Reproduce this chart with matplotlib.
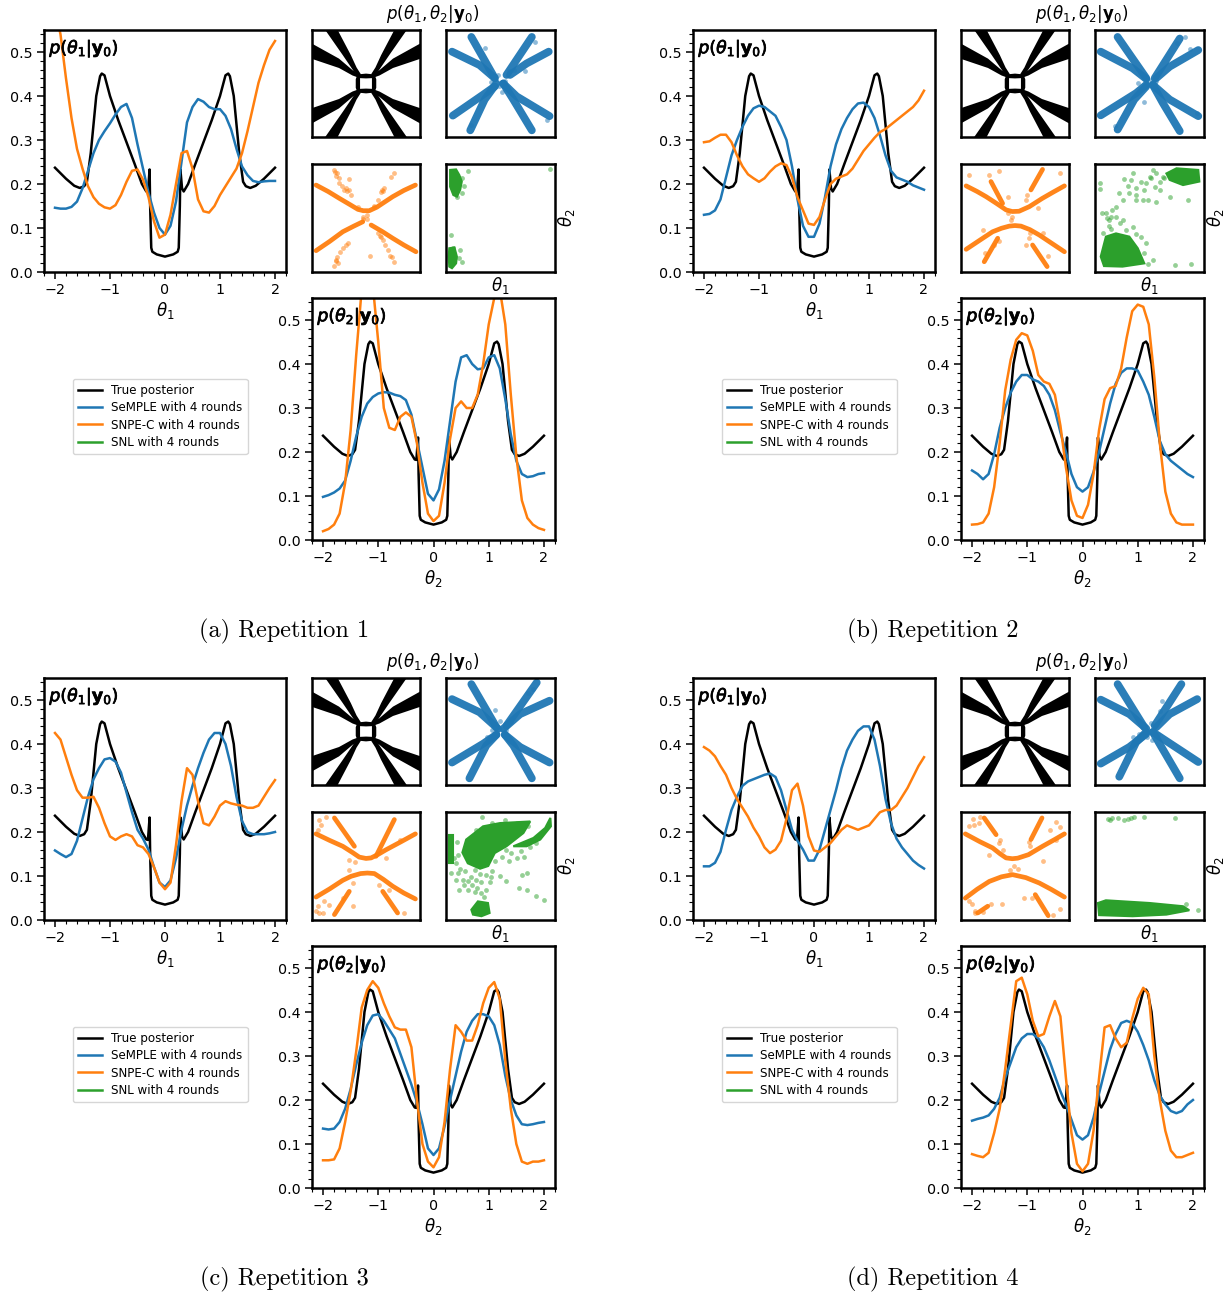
import numpy as np
import matplotlib
matplotlib.use("Agg")
from matplotlib import pyplot as plt
from matplotlib import patheffects
from matplotlib.lines import Line2D
from matplotlib.ticker import MultipleLocator

W, H = 1229, 1293
BLUE, ORANGE, GREEN = "#1f77b4", "#ff7f0e", "#2ca02c"

theta_grid = [-2.0, -1.9, -1.8, -1.7, -1.6, -1.5, -1.4, -1.3, -1.2, -1.1, -1.0, -0.9, -0.8, -0.7,
              -0.6, -0.5, -0.4, -0.3, -0.2, -0.1, 0.0, 0.1, 0.2, 0.3, 0.4, 0.5, 0.6, 0.7,
              0.8, 0.9, 1.0, 1.1, 1.2, 1.3, 1.4, 1.5, 1.6, 1.7, 1.8, 1.9, 2.0]

# true posterior marginal, same in every panel
true_x = [-2.0, -1.8, -1.65, -1.55, -1.47, -1.42, -1.35, -1.25, -1.18, -1.15, -1.1, -1.0, -0.85, -0.7,
          -0.55, -0.42, -0.34, -0.31, -0.28, -0.27, -0.25, -0.23, -0.15, 0.0, 0.15, 0.23, 0.25, 0.27,
          0.28, 0.31, 0.34, 0.42, 0.55, 0.7, 0.85, 1.0, 1.1, 1.15, 1.18, 1.25, 1.35, 1.42, 1.47, 1.55,
          1.65, 1.8, 2.0]
true_y = [0.237, 0.212, 0.196, 0.191, 0.195, 0.205, 0.27, 0.40, 0.445, 0.451, 0.447, 0.40, 0.345, 0.295,
          0.245, 0.20, 0.183, 0.182, 0.233, 0.15, 0.055, 0.046, 0.04, 0.035, 0.04, 0.046, 0.055, 0.15,
          0.233, 0.19, 0.183, 0.20, 0.245, 0.295, 0.345, 0.40, 0.447, 0.451, 0.445, 0.40, 0.27, 0.205,
          0.195, 0.191, 0.196, 0.212, 0.237]

a_t1_blue = [.146, .144, .144, .148, .16, .19, .23, .27, .30, .32, .338, .358, .375, .382, .35, .29, .235, .18, .135, .10, .085,
             .105, .16, .25, .34, .375, .393, .387, .375, .37, .37, .355, .325, .28, .24, .22, .207, .204, .206, .207, .207]
a_t1_orange = [.60, .54, .44, .35, .28, .235, .195, .17, .155, .147, .144, .152, .175, .205, .23, .233, .21, .17, .115, .078, .085,
               .13, .20, .27, .275, .235, .165, .138, .135, .15, .175, .195, .215, .235, .27, .32, .375, .43, .47, .505, .525]
a_t2_blue = [.098, .102, .108, .117, .135, .18, .235, .28, .31, .325, .333, .336, .335, .33, .327, .318, .285, .225, .165, .105, .09,
             .115, .18, .27, .36, .415, .42, .40, .388, .39, .415, .42, .39, .32, .24, .18, .15, .143, .145, .15, .152]
a_t2_orange = [.02, .025, .035, .06, .13, .25, .42, .57, .62, .58, .45, .30, .255, .25, .28, .29, .28, .22, .13, .06, .043,
               .055, .13, .23, .30, .315, .30, .30, .33, .40, .49, .55, .57, .49, .33, .19, .09, .05, .035, .027, .023]

b_t1_blue = [.13, .132, .14, .165, .215, .265, .30, .33, .355, .372, .378, .375, .365, .355, .33, .30, .24, .165, .105, .08, .08,
             .11, .17, .24, .29, .325, .35, .37, .383, .385, .375, .35, .31, .265, .23, .215, .21, .205, .197, .192, .187]
b_t1_orange = [.295, .297, .305, .312, .312, .295, .265, .24, .222, .213, .205, .213, .228, .24, .247, .243, .215, .17, .14, .11, .107,
               .125, .165, .20, .212, .217, .222, .235, .255, .275, .29, .305, .318, .325, .335, .345, .355, .365, .375, .39, .412]
b_t2_blue = [.158, .15, .138, .15, .195, .255, .30, .335, .36, .375, .375, .365, .36, .35, .33, .295, .245, .20, .15, .12, .11,
             .12, .155, .20, .255, .31, .355, .38, .39, .39, .385, .36, .33, .28, .225, .195, .18, .17, .16, .15, .143]
b_t2_orange = [.035, .036, .04, .06, .12, .22, .34, .41, .455, .47, .465, .43, .375, .36, .355, .33, .26, .165, .09, .055, .05,
               .08, .15, .25, .32, .345, .35, .39, .46, .52, .535, .53, .49, .37, .22, .11, .06, .04, .035, .035, .035]

c_t1_blue = [.158, .15, .143, .15, .18, .23, .28, .32, .345, .365, .368, .36, .335, .29, .245, .205, .185, .16, .12, .085, .075,
             .09, .14, .205, .26, .305, .345, .38, .41, .425, .425, .40, .35, .28, .225, .20, .195, .195, .195, .197, .20]
c_t1_orange = [.425, .41, .37, .33, .295, .278, .278, .28, .255, .22, .19, .182, .19, .195, .19, .17, .165, .15, .12, .085, .07,
               .085, .17, .27, .345, .33, .27, .22, .215, .235, .26, .27, .265, .262, .26, .255, .255, .26, .28, .30, .318]
c_t2_blue = [.135, .133, .135, .15, .18, .225, .28, .33, .37, .392, .395, .38, .36, .34, .305, .27, .235, .195, .145, .09, .075,
             .09, .14, .20, .255, .31, .355, .38, .395, .395, .39, .37, .325, .255, .20, .165, .145, .143, .145, .148, .15]
c_t2_orange = [.063, .063, .065, .09, .15, .22, .31, .41, .45, .47, .455, .42, .39, .365, .36, .36, .32, .20, .10, .06, .047,
               .07, .15, .27, .37, .355, .335, .335, .37, .42, .455, .468, .43, .29, .18, .10, .06, .055, .06, .06, .063]

d_t1_blue = [.122, .122, .13, .155, .205, .25, .28, .305, .315, .32, .325, .33, .333, .325, .295, .25, .205, .18, .16, .135, .135,
             .16, .205, .25, .295, .345, .385, .41, .43, .44, .44, .41, .35, .275, .22, .185, .165, .15, .135, .125, .117]
d_t1_orange = [.393, .385, .372, .35, .33, .30, .275, .255, .235, .21, .19, .165, .152, .16, .18, .23, .295, .31, .26, .19, .158,
               .155, .165, .175, .19, .205, .215, .21, .205, .21, .215, .23, .245, .25, .25, .26, .28, .30, .325, .35, .37]
d_t2_blue = [.153, .157, .16, .165, .18, .205, .25, .285, .32, .34, .35, .35, .34, .32, .29, .255, .22, .19, .155, .12, .11,
             .12, .16, .215, .265, .315, .35, .375, .38, .375, .355, .325, .29, .245, .21, .19, .175, .17, .175, .19, .20]
d_t2_orange = [.077, .073, .07, .08, .125, .18, .27, .37, .47, .478, .44, .38, .345, .35, .39, .425, .39, .25, .125, .055, .038,
               .055, .13, .25, .365, .37, .34, .32, .33, .385, .43, .455, .44, .30, .20, .13, .085, .07, .07, .075, .08]

# true joint posterior, upper right quadrant, mirrored when drawn
arm_steep = [(1.05, 2.0), (1.51, 2.0), (.86, 1.06), (.45, .45), (.3, .3), (.18, .33), (.35, .6), (.56, 1.06)]
arm_shallow = [(2.0, 1.49), (2.0, .92), (1.0, .58), (.5, .3), (.28, .22), (.28, .36), (.5, .5), (1.0, .93)]
ring_outer = [(0, .37), (.2, .35), (.33, .3), (.38, .16), (.38, 0), (.38, -.16), (.33, -.3), (.2, -.35), (0, -.37),
              (-.2, -.35), (-.33, -.3), (-.38, -.16), (-.38, 0), (-.38, .16), (-.33, .3), (-.2, .35)]
ring_inner = [(0, .19), (.22, .2), (.22, -.2), (0, -.19), (-.22, -.2), (-.22, .2)]

# dense parts of the sample clouds, read as ridge lines
a_blue_ridges = [[(-1.07, 1.74), (-.21, .2)], [(-1.78, 1.19), (-.77, .69), (-.21, .2)],
                 [(1.15, 1.74), (.22, .32)], [(1.77, 1.19), (.96, .75), (.35, .32)],
                 [(-1.75, -1.2), (-.64, -.42), (-.21, -.11)], [(-1.11, -1.75), (-.58, -.6), (-.15, 0)],
                 [(1.15, -1.75), (.47, -.6), (.1, 0)], [(1.8, -1.22), (.59, -.48), (.1, 0)]]
b_blue_ridges = [[(-1.17, 1.74), (-.12, .2)], [(-1.79, 1.19), (-.62, .57), (-.12, .17)],
                 [(1.11, 1.68), (.19, .2)], [(1.79, 1.25), (.74, .63), (.25, .2)],
                 [(-1.79, -1.19), (-.49, -.36), (-.12, -.05)], [(-1.17, -1.72), (-.56, -.6), (-.12, -.11)],
                 [(1.11, -1.78), (.49, -.73), (.12, -.05)], [(1.79, -1.22), (.74, -.6), (.12, -.05)]]
c_blue_ridges = [[(-1.07, 1.77), (-.15, .16)], [(-1.78, 1.21), (-.77, .72), (-.09, .1)],
                 [(1.33, 1.83), (.22, .22)], [(1.8, 1.15), (.72, .65), (.1, .1)],
                 [(-1.78, -1.16), (-.64, -.46), (-.15, -.12)], [(-1.14, -1.75), (-.52, -.52), (-.15, -.12)],
                 [(1.15, -1.75), (.47, -.52), (.16, -.12)], [(1.8, -1.16), (.72, -.58), (.16, -.12)]]
d_blue_ridges = [[(-1.17, 1.77), (-.19, .16)], [(-1.79, 1.19), (-.74, .65), (-.12, .11)],
                 [(1.17, 1.77), (.19, .22)], [(1.75, 1.21), (.74, .65), (.25, .16)],
                 [(-1.79, -1.2), (-.74, -.58), (-.12, -.09)], [(-1.11, -1.69), (-.49, -.4), (-.12, -.02)],
                 [(1.11, -1.75), (.37, -.46), (.12, -.02)], [(1.79, -1.14), (.49, -.27), (.12, -.02)]]

a_blue_stray = [(-.58, 1.33), (.05, -.33), (.5, .5), (.9, .45), (-.1, .3), (.3, .45), (-.05, -.1), (1.7, -1.35), (-1.1, -1.55),
                (1.25, 1.55), (-.35, .05), (.15, .1)]
b_blue_stray = [(-.43, .02), (.05, .12), (.1, -.1), (-.1, .02), (.25, .1), (1.5, 1.3), (1.75, -1.1), (-1.25, -1.6),
                (1.3, 1.75), (1.0, 1.5), (-.2, -.7), (.2, .03)]
c_blue_stray = [(-.22, .8), (-.03, .4), (-.3, .05), (.2, .05), (-.5, -.2), (.1, .1), (1.2, 1.6), (1.0, 1.45), (-.4, -.2), (.4, .35)]
d_blue_stray = [(.45, 1.15), (-.1, -.2), (.1, -.3), (.05, .3), (-.6, -.2), (-.4, -.1), (.3, -.1), (.25, -.2), (-.15, .1), (.4, .75)]

a_orange_ridges = [[(-1.85, 1.22), (-1.4, .98), (-.99, .73), (-.6, .5), (-.3, .32), (-.1, .27), (.12, .27), (.4, .4), (.99, .79), (1.4, 1.02), (1.83, 1.22)],
                   [(-1.85, -1.21), (-1.35, -.87), (-.86, -.51), (-.45, -.3), (-.12, -.14)],
                   [(.19, -.26), (.6, -.5), (.99, -.75), (1.4, -1.0), (1.85, -1.25)]]
a_orange_stray = [(-1.17, 1.78), (-1.09, 1.65), (-.99, 1.47), (-.99, 1.28), (-.8, 1.04), (-.62, 1.04), (-.56, .85), (-.64, 1.43),
                  (-1.1, 1.55), (-.75, 1.1), (1.05, 1.65), (.93, 1.53), (.68, 1.1), (.56, .98), (.43, .67), (.31, .42), (.6, 1.05),
                  (-1.17, -1.77), (-1.09, -1.43), (-.86, -1.12), (-.68, -.94), (-1.05, -1.68), (-1.12, -1.55), (-.75, -1.0),
                  (1.05, -1.62), (.8, -1.19), (.62, -.81), (.43, -.57), (.15, -1.4), (.9, -1.4), (.7, -1.0), (.55, -.7),
                  (-.1, .05), (-.1, -.05), (.03, .12), (.03, -.02), (-.3, .4), (.3, .45), (-.88, 1.2), (-1.15, 1.72), (-.7, 1.0),
                  (.62, 1.0), (-1.12, -1.6), (-.95, -1.25), (.95, -1.45), (.5, -.65)]
b_orange_ridges = [[(-1.81, 1.19), (-1.4, .98), (-1.07, .79), (-.7, .55), (-.33, .3), (-.1, .24), (.15, .25), (.53, .42), (1.0, .72), (1.4, .95), (1.83, 1.19)],
                   [(-1.81, -1.16), (-1.3, -.82), (-.83, -.51), (-.5, -.38), (-.21, -.3), (0, -.28), (.22, -.3), (.55, -.43), (.9, -.63), (1.35, -.93), (1.83, -1.25)],
                   [(1.02, 1.8), (.59, 1.04)], [(-.89, 1.35), (-.46, .54)], [(-1.14, -1.62), (-.64, -.75)], [(1.19, -1.8), (.65, -1.0)]]
b_orange_stray = [(-1.69, 1.59), (-.98, 1.59), (-.6, 1.75), (1.67, 1.65), (-.27, .77), (-1.2, -.44), (.53, -.75), (-.27, .17),
                  (-.15, -.07), (.41, .67), (.84, .36), (1.02, -.57), (-.77, -1.0), (1.21, -1.41), (.41, -1.0), (.45, .85),
                  (-.6, -.85), (-1.1, -1.3), (-.1, .05), (.55, -.55)]
c_orange_ridges = [[(-1.85, 1.19), (-1.35, .95), (-.86, .73), (-.5, .5), (-.25, .33), (0, .28), (.19, .3), (.45, .43), (.74, .6), (1.3, .9), (1.83, 1.19)],
                   [(-1.85, -1.15), (-1.35, -.85), (-.86, -.53), (-.55, -.38), (-.2, -.28), (.05, -.26), (.31, -.28), (.65, -.5), (.99, -.75), (1.4, -1.0), (1.83, -1.22)],
                   [(-1.17, 1.78), (-.43, .73)], [(1.05, 1.72), (.37, .36)], [(-1.17, -1.8), (-.62, -.94)], [(1.17, -1.74), (.62, -.94)]]
c_orange_stray = [(-1.79, 1.35), (-1.67, 1.53), (-1.48, 1.80), (-1.73, 1.72), (-1.73, -1.74), (-1.79, -1.49), (-1.6, -1.74),
                  (-1.36, -1.43), (-.49, -1.49), (1.42, -1.74), (-.62, -.14), (-.62, .23), (.74, .30), (-.49, -.63), (.49, -.69),
                  (.86, -.88), (-.86, -1.19), (-1.85, -1.65), (-1.55, -1.3), (-.4, .15), (1.25, .95)]
d_orange_ridges = [[(-1.84, 1.19), (-1.3, .9), (-.83, .67), (-.55, .45), (-.33, .3), (-.1, .27), (.1, .29), (.5, .42), (1.02, .73), (1.45, .97), (1.83, 1.19)],
                   [(-1.84, -1.19), (-1.4, -.86), (-.95, -.57), (-.5, -.4), (-.09, -.32), (.4, -.43), (.9, -.63), (1.35, -.87), (1.83, -1.15)],
                   [(1.0, 1.78), (.59, .98)], [(-1.14, 1.78), (-.7, 1.16)], [(1.23, -1.84), (.75, -1.06)], [(-1.38, -1.74), (-1.01, -1.49)]]
d_orange_stray = [(-1.69, 1.47), (-1.51, 1.53), (-1.56, 1.75), (1.5, 1.64), (1.67, 1.45), (1.53, .95), (.52, .9), (-.6, .86),
                  (-.46, .6), (-.95, .4), (1.02, .17), (-1.6, -1.4), (-1.49, -1.65), (-.9, -1.4), (-.47, -1.4), (.33, -1.2),
                  (.62, -1.2), (1.65, -1.6), (1.4, -1.8), (-.2, -.15), (-1.3, 1.8), (-1.35, 1.6), (-1.72, -1.3), (-1.2, -1.7),
                  (-.55, .95), (.1, -.1), (-.05, .0), (.55, .75), (-1.5, -1.75), (1.3, 1.35)]

# green clouds: outline of the solid part, then the separate samples
a_green_blobs = [[(-1.85, 1.78), (-1.63, 1.80), (-1.51, 1.59), (-1.42, 1.35), (-1.48, 1.04), (-1.60, .79), (-1.73, .85), (-1.85, 1.16)],
                 [(-1.88, -1.12), (-1.69, -1.09), (-1.6, -1.43), (-1.63, -1.68), (-1.78, -1.86), (-1.88, -1.8), (-1.9, -1.43)]]
a_green_stray = [(-1.2, 1.75), (1.8, 1.81), (-1.81, -.64), (-1.41, -1.62), (-1.6, .79), (-1.51, -1.49), (-1.42, .91), (-1.73, -1.12),
                 (-1.4, 1.5), (-1.35, 1.2), (-1.5, -1.2)]
b_green_blobs = [[(-1.79, -1.43), (-1.6, -.69), (-1.23, -.57), (-.74, -.69), (-.43, -1.12), (-.19, -1.68), (-.99, -1.8), (-1.67, -1.78)],
                 [(.62, 1.65), (.99, 1.84), (1.79, 1.78), (1.83, 1.35), (1.23, 1.22), (.74, 1.41)]]
b_green_stray = [(-1.83, 1.28), (-1.83, 1.06), (-.93, 1.44), (-.62, 1.65), (-.68, 1.41), (.12, 1.77), (.25, 1.65), (0, 1.53), (-.31, 1.35),
                 (-.49, 1.10), (-.12, 1.28), (.19, 1.16), (.37, 1.04), (.74, .79), (.25, .60), (-.06, .67), (-.25, .67), (-.74, .91),
                 (-.99, .67), (-1.11, .91), (-1.23, .42), (-1.36, .30), (-1.6, .17), (-1.73, .17), (-1.48, -.07), (-1.23, .05),
                 (-.99, -.07), (-.62, -.32), (-.31, -.69), (-.12, -.94), (.12, -1.56), (.93, -1.74), (1.51, -1.72), (1.42, .67),
                 (.49, 1.53), (.06, 1.48), (-.49, .67), (-.8, 1.2), (-.5, .85), (-.2, 1.05), (-1.4, .05), (-1.1, -.2), (-1.5, -.3),
                 (-1.7, -.55), (-1.4, -.4), (-1.55, .0), (-.85, -.45), (-.5, -.6), (-.2, -1.3), (-.05, -1.7), (.55, 1.5), (.4, 1.35)]
c_green_blobs = [[(-1.26, .98), (-.64, 1.47), (-.02, 1.59), (1.09, 1.65), (.84, 1.22), (.22, .73), (-.21, .48), (-.45, 0), (-.75, -.1),
                  (-1.2, .1), (-1.4, .5)],
                 [(.47, .73), (1.21, 1.04), (1.64, 1.41), (1.83, 1.78), (1.85, 1.47), (1.46, .98), (.96, .73)],
                 [(-1.07, -1.62), (-.83, -1.31), (-.46, -1.37), (-.40, -1.74), (-.70, -1.86), (-1.01, -1.80)],
                 [(-1.88, 1.16), (-1.75, 1.16), (-1.75, .11), (-1.88, .11)]]
c_green_stray = [(-.67, 1.80), (.16, 1.72), (1.58, -1.25), (1.31, -1.12), (.96, -.26), (.78, -.32), (.69, -.81), (.96, -.88), (.22, -.57),
                 (-.02, -.38), (-.70, -1.0), (-1.53, -.88), (-1.38, -.51), (-1.81, -.26), (-1.63, .11), (-1.2, -.9), (-.95, -.95),
                 (-.6, -1.15), (.3, .2), (.6, .3), (.85, .35), (.2, .6), (-1.65, -.5), (-1.55, .4), (-1.6, .9), (-.4, -.6), (-.3, -.2),
                 (-1.3, -.2), (-1.1, -.4), (-.9, -.5), (-.7, -.6), (-1.5, -.1), (-1.35, -.7), (-1.05, -.7), (-.85, -.8), (-.55, -.35),
                 (-.35, -.4), (-.55, -.9), (-1.7, .3), (-1.55, -.25), (-1.2, -.55), (-.95, -.15), (-.75, -.3), (-.2, .2), (.05, .35),
                 (.4, .5), (.75, .55), (1.1, .7), (1.3, .85), (1.0, 1.5), (.6, 1.6), (-.3, 1.6), (-.9, 1.35)]
d_green_blobs = [[(-1.89, -1.37), (-1.60, -1.27), (0, -1.37), (1.23, -1.49), (1.46, -1.64), (.62, -1.80), (-.62, -1.86), (-1.85, -1.82)]]
d_green_stray = [(-1.51, 1.74), (-1.38, 1.78), (-1.17, 1.78), (-.93, 1.72), (-.68, 1.78), (-.56, 1.8), (-.19, 1.8), (.95, 1.78),
                 (1.79, -1.64), (1.33, -1.41), (-1.45, 1.7), (-.8, 1.75)]

labels = ["True posterior", "SeMPLE with 4 rounds", "SNPE-C with 4 rounds", "SNL with 4 rounds"]
captions = ["(a) Repetition 1", "(b) Repetition 2", "(c) Repetition 3", "(d) Repetition 4"]
offsets = [(0, 0), (649, 0), (0, 648), (649, 648)]
marginals = [(a_t1_blue, a_t1_orange, a_t2_blue, a_t2_orange), (b_t1_blue, b_t1_orange, b_t2_blue, b_t2_orange),
             (c_t1_blue, c_t1_orange, c_t2_blue, c_t2_orange), (d_t1_blue, d_t1_orange, d_t2_blue, d_t2_orange)]
blue_clouds = [(a_blue_ridges, a_blue_stray), (b_blue_ridges, b_blue_stray), (c_blue_ridges, c_blue_stray), (d_blue_ridges, d_blue_stray)]
orange_clouds = [(a_orange_ridges, a_orange_stray), (b_orange_ridges, b_orange_stray), (c_orange_ridges, c_orange_stray),
                 (d_orange_ridges, d_orange_stray)]
green_clouds = [(a_green_blobs, a_green_stray), (b_green_blobs, b_green_stray), (c_green_blobs, c_green_stray), (d_green_blobs, d_green_stray)]

plt.rcParams["mathtext.fontset"] = "dejavusans"
fig = plt.figure(figsize=(W / 100, H / 100), dpi=100)


def px_axes(x0, y0, x1, y1):
    """ axes from pixel box, y counted from the top """
    ax = fig.add_axes([x0 / W, 1 - y1 / H, (x1 - x0) / W, (y1 - y0) / H])
    for sp in ax.spines.values():
        sp.set_linewidth(1.8)
    return ax


def marginal_axes(box, blue, orange, name):
    ax = px_axes(*box)
    ax.plot(true_x, true_y, color="black", lw=1.8)
    ax.plot(theta_grid, blue, color=BLUE, lw=1.8)
    ax.plot(theta_grid, orange, color=ORANGE, lw=1.8)
    ax.set_xlim(-2.2, 2.2)
    ax.set_ylim(0, 0.55)
    ax.set_xticks([-2, -1, 0, 1, 2])
    ax.set_yticks([0, .1, .2, .3, .4, .5])
    ax.xaxis.set_minor_locator(MultipleLocator(0.2))
    ax.yaxis.set_minor_locator(MultipleLocator(0.02))
    ax.tick_params(which="major", length=5, width=1.1, labelsize=10.3, pad=3)
    ax.tick_params(which="minor", length=3, width=0.8)
    ax.set_xlabel(r"$\theta_%s$" % name, fontsize=12, labelpad=2)
    label = ax.text(0.022, 0.97, r"$p(\theta_%s|\mathbf{y}_0)$" % name, transform=ax.transAxes, fontsize=12.5, va="top", ha="left")
    label.set_path_effects([patheffects.withStroke(linewidth=0.5, foreground="black")])
    return ax


def joint_axes(box):
    ax = px_axes(*box)
    ax.set_xlim(-2, 2)
    ax.set_ylim(-2, 2)
    ax.set_xticks([])
    ax.set_yticks([])
    return ax


def draw_cloud(ax, ridges, stray, color, lw):
    for ridge in ridges:
        ax.plot([p[0] for p in ridge], [p[1] for p in ridge], color=color, lw=lw, alpha=0.95, solid_capstyle="round", solid_joinstyle="round")
    ax.scatter([p[0] for p in stray], [p[1] for p in stray], s=12, color=color, alpha=0.5, linewidths=0)


for i, (dx, dy) in enumerate(offsets):
    t1_blue, t1_orange, t2_blue, t2_orange = marginals[i]
    ax1 = marginal_axes((44 + dx, 30 + dy, 286 + dx, 272 + dy), t1_blue, t1_orange, "1")
    marginal_axes((312 + dx, 298 + dy, 555 + dx, 540 + dy), t2_blue, t2_orange, "2")

    ax_true = joint_axes((312 + dx, 30 + dy, 420 + dx, 137 + dy))
    for sx in (1, -1):
        for sy in (1, -1):
            for arm in (arm_steep, arm_shallow):
                ax_true.fill([sx * p[0] for p in arm], [sy * p[1] for p in arm], color="black", lw=0)
    ax_true.fill([p[0] for p in ring_outer], [p[1] for p in ring_outer], color="black", lw=0)
    ax_true.fill([p[0] for p in ring_inner], [p[1] for p in ring_inner], color="white", lw=0)

    ax_blue = joint_axes((446 + dx, 30 + dy, 555 + dx, 137 + dy))
    draw_cloud(ax_blue, blue_clouds[i][0], blue_clouds[i][1], BLUE, 5.6)

    ax_orange = joint_axes((312 + dx, 164 + dy, 420 + dx, 272 + dy))
    draw_cloud(ax_orange, orange_clouds[i][0], orange_clouds[i][1], ORANGE, 3.4)

    ax_green = joint_axes((446 + dx, 164 + dy, 555 + dx, 272 + dy))
    for blob in green_clouds[i][0]:
        ax_green.fill([p[0] for p in blob], [p[1] for p in blob], color=GREEN, lw=1.5)
    ax_green.scatter([p[0] for p in green_clouds[i][1]], [p[1] for p in green_clouds[i][1]], s=12, color=GREEN, alpha=0.5, linewidths=0)
    ax_green.set_xlabel(r"$\theta_1$", fontsize=12, labelpad=2)
    ax_green.yaxis.set_label_position("right")
    ax_green.set_ylabel(r"$\theta_2$", fontsize=12, labelpad=1)

    fig.text((433 + dx) / W, 1 - (14 + dy) / H, r"$p(\theta_1,\theta_2|\mathbf{y}_0)$", fontsize=12, ha="center", va="center")

    handles = [Line2D([], [], color=c, lw=1.8) for c in ("black", BLUE, ORANGE, GREEN)]
    fig.legend(handles, labels, loc="upper left", bbox_to_anchor=((73 + dx) / W, 1 - (379 + dy) / H), borderaxespad=0,
               fontsize=8.6, handlelength=2.0, labelspacing=0.36, borderpad=0.42, framealpha=0.8)

    fig.text((284 + dx) / W, 1 - (631 + dy) / H, captions[i], family="cmr10", fontsize=17.5, ha="center", va="center")

fig.savefig("out.png", dpi=100)
